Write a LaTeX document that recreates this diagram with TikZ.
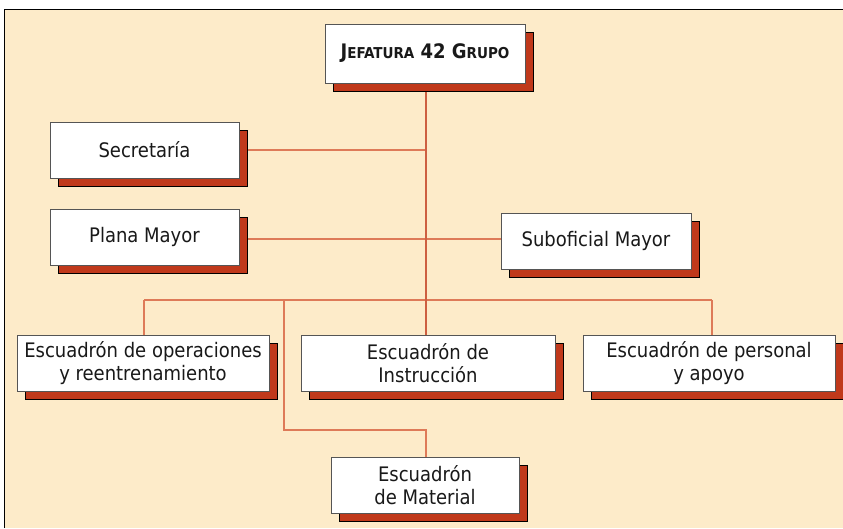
\documentclass[tikz,border=0pt]{standalone}
\usepackage{fontspec}
\setmainfont{DejaVu Sans Condensed}
\usetikzlibrary{shadows}
\definecolor{cream}{RGB}{253,235,201}
\definecolor{shred}{RGB}{192,57,27}
\definecolor{conn}{RGB}{222,122,88}
\definecolor{conndark}{RGB}{205,95,65}
\definecolor{boxline}{RGB}{85,85,85}
\definecolor{txt}{RGB}{25,25,25}
\begin{document}
\begin{tikzpicture}[x=1pt,y=-1pt,
  unit/.style={draw=boxline, line width=0.9pt, fill=white, align=center,
    inner sep=0pt, text=txt, font=\fontsize{20}{23}\selectfont,
    general shadow={shadow xshift=8pt, shadow yshift=-8pt, fill=shred, draw=black, line width=0.8pt}},
  link/.style={draw=conn, line width=1.1pt}]
\useasboundingbox (0,0) rectangle (843,528);
\fill[cream] (4,9) rectangle (843,528);
\draw[black, line width=1.4pt] (4.7,528) -- (4.7,9.7) -- (843,9.7);
% connectors
\coordinate (c1) at (426,150);
\coordinate (bl) at (144,300);
\coordinate (br) at (712,300);
\coordinate (bm) at (284,300);
\coordinate (mb) at (284,430);
\coordinate (mc) at (426,430);
\coordinate (pl) at (239,239);
\coordinate (pr) at (501,239);
\draw[link] (239,150) -- (c1);
\draw[link] (pl) -- (pr);
\draw[link] (bl) -- (br);
\draw[link] (bl) -- (144,335);
\draw[link] (br) -- (712,335);
\draw[link] (bm) -- (mb) -- (mc) -- (426,457);
\draw[link, draw=conndark] (426,83) -- (426,335);
% nodes
\node[unit, minimum width=200pt, minimum height=59pt, font=\fontsize{20}{23}\selectfont\bfseries] (jef) at (425,53.5)
  {J{\fontsize{15}{18}\selectfont EFATURA} 42 G{\fontsize{15}{18}\selectfont RUPO}};
\node[unit, minimum width=189pt, minimum height=56pt] (sec) at (144.5,150) {Secretaría};
\node[unit, minimum width=189pt, minimum height=56pt] (pla) at (144.5,237) {Plana Mayor};
\node[unit, minimum width=190pt, minimum height=56pt] (sub) at (596,241) {Suboficial Mayor};
\node[unit, minimum width=252pt, minimum height=56pt] (ope) at (143,363) {Escuadrón de operaciones\\y reentrenamiento};
\node[unit, minimum width=254pt, minimum height=56pt] (ins) at (428,363) {Escuadrón de\\Instrucción};
\node[unit, minimum width=252pt, minimum height=56pt] (per) at (709,363) {Escuadrón de personal\\y apoyo};
\node[unit, minimum width=188pt, minimum height=56pt] (mat) at (425,485) {Escuadrón\\de Material};
\end{tikzpicture}
\end{document}
